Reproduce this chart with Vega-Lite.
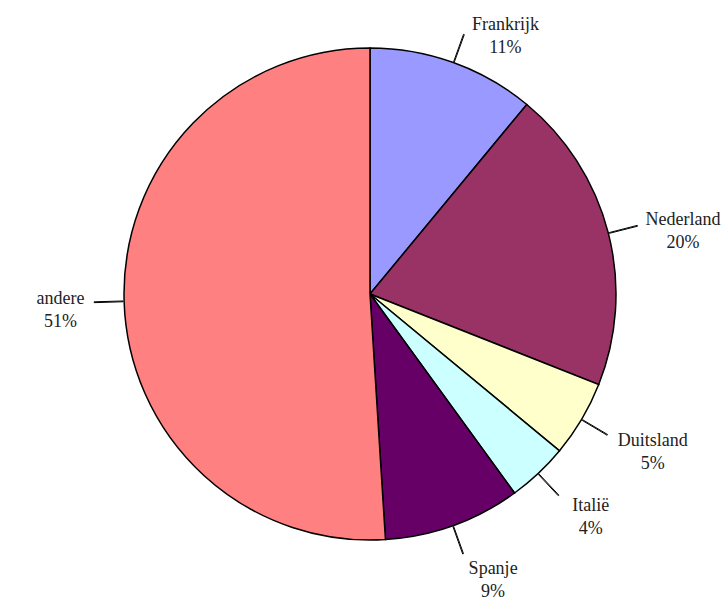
{
  "$schema": "https://vega.github.io/schema/vega-lite/v6.json",
  "autosize": "none",
  "width": 724,
  "height": 584,
  "padding": {"left": 8, "top": 2, "right": 0, "bottom": 21},
  "background": "white",
  "config": {"view": {"stroke": null}},
  "data": {
    "values": [
      {"i": 1, "land": "Frankrijk", "pct": 11},
      {"i": 2, "land": "Nederland", "pct": 20},
      {"i": 3, "land": "Duitsland", "pct": 5},
      {"i": 4, "land": "Italië", "pct": 4},
      {"i": 5, "land": "Spanje", "pct": 9},
      {"i": 6, "land": "andere", "pct": 51}
    ]
  },
  "transform": [
    {"window": [{"op": "sum", "field": "pct", "as": "cum"}], "sort": [{"field": "i", "order": "ascending"}], "frame": [null, 0]},
    {"calculate": "datum.cum - datum.pct / 2", "as": "mid"},
    {"calculate": "datum.mid + 0.05", "as": "mid2"},
    {"calculate": "datum.land + '\\n' + datum.pct + '%'", "as": "label"}
  ],
  "layer": [
    {
      "mark": {"type": "arc", "outerRadius": 246, "stroke": "black", "strokeWidth": 1.5},
      "encoding": {
        "theta": {"field": "pct", "type": "quantitative", "stack": true, "scale": {"domain": [0, 100]}},
        "order": {"field": "i", "type": "quantitative"},
        "color": {
          "field": "land", "type": "nominal", "legend": null,
          "scale": {
            "domain": ["Frankrijk", "Nederland", "Duitsland", "Italië", "Spanje", "andere"],
            "range": ["#9999FF", "#993366", "#FFFFCC", "#CCFFFF", "#660066", "#FF8080"]
          }
        }
      }
    },
    {
      "mark": {"type": "arc", "innerRadius": 247, "outerRadius": 276, "stroke": "black", "strokeWidth": 1, "fill": null},
      "encoding": {
        "theta": {"field": "mid", "type": "quantitative", "stack": null},
        "theta2": {"field": "mid2"}
      }
    },
    {
      "mark": {
        "type": "text", "radius": 282,
        "dy": {"expr": "-4 + 14 * max(0, -cos(datum.mid / 100 * 2 * PI))"},
        "dx": {"expr": "(datum.mid < 50 ? 1 : -1) * (datum.land.length * 4.1 + 3)"},
        "font": "Liberation Serif", "fontSize": 18, "lineHeight": 23, "lineBreak": "\n",
        "color": "#222222", "align": "center", "baseline": "middle"
      },
      "encoding": {
        "theta": {"field": "mid", "type": "quantitative", "stack": null},
        "text": {"field": "label"}
      }
    }
  ]
}
